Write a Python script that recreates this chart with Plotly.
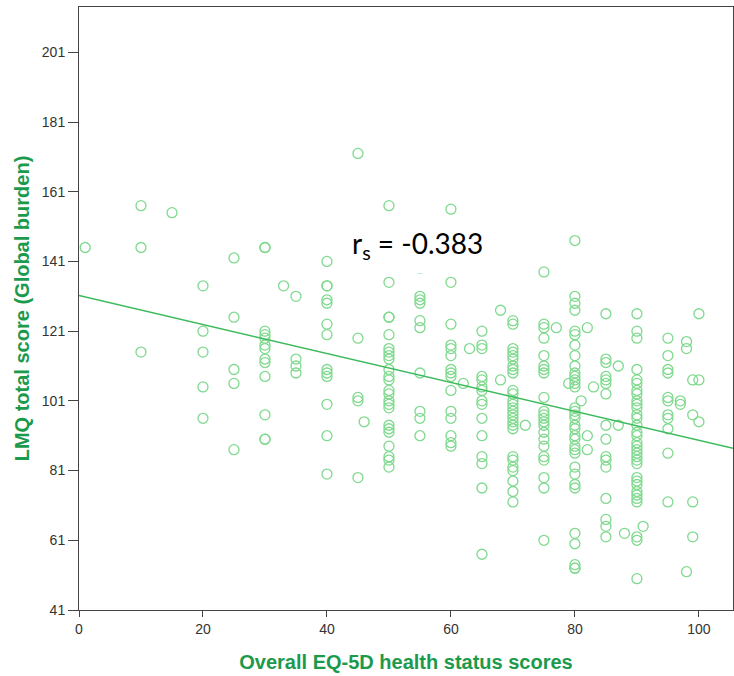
import plotly.graph_objects as go

# EQ-5D score levels (x) and the LMQ scores observed at each level (y)
eq5d_levels = [1, 10, 15, 20, 25, 30, 33, 35, 40, 45, 46, 50, 55, 60, 62, 63, 65, 68, 70,
               72, 75, 77, 79, 80, 81, 82, 83, 85, 87, 88, 90, 91, 95, 97, 98, 99, 100]
lmq_by_level = [
    [145],
    [157, 145, 115],
    [155],
    [134, 121, 115, 105, 96],
    [142, 125, 110, 106, 87],
    [145, 145, 121, 120, 119, 117, 116, 113, 112, 108, 97, 90, 90],
    [134],
    [131, 113, 111, 109],
    [141, 134, 134, 130, 129, 123, 120, 110, 109, 108, 100, 91, 80],
    [172, 119, 102, 101, 79],
    [95],
    [157, 135, 125, 125, 120, 116, 115, 114, 113, 110, 108, 107, 104, 103, 101, 100, 99, 94, 93, 92, 88, 85, 84, 82],
    [139, 131, 130, 129, 124, 122, 109, 98, 96, 91],
    [156, 135, 123, 117, 116, 114, 110, 109, 108, 104, 98, 96, 91, 89, 88],
    [106],
    [116],
    [121, 117, 116, 108, 107, 105, 104, 101, 100, 96, 91, 85, 83, 76, 57],
    [127, 107],
    [124, 123, 116, 115, 114, 113, 111, 110, 109, 104, 103, 101, 100, 99, 98, 97, 96, 95, 94, 93, 85, 84, 82, 81, 78, 75, 72],
    [94],
    [138, 123, 122, 119, 114, 111, 110, 109, 102, 98, 97, 96, 95, 94, 92, 90, 88, 85, 84, 79, 76, 61],
    [122],
    [106],
    [147, 131, 129, 127, 121, 120, 117, 114, 111, 109, 108, 107, 106, 105, 99, 98, 97, 96, 94, 93, 91, 90, 88, 87, 86, 82, 80, 77, 76, 63, 60, 54, 53, 53],
    [101],
    [122, 91, 87],
    [105],
    [126, 113, 112, 108, 107, 106, 103, 94, 90, 85, 84, 82, 73, 67, 65, 62],
    [111, 94],
    [63],
    [126, 121, 119, 110, 107, 106, 104, 103, 101, 100, 99, 97, 96, 94, 92, 91, 89, 88, 87, 86, 85, 84, 83, 79, 78, 77, 75, 74, 73, 72, 62, 61, 50],
    [65],
    [119, 114, 110, 109, 102, 101, 97, 96, 93, 86, 72],
    [101, 100],
    [118, 116, 52],
    [107, 97, 72, 62],
    [126, 107, 95],
]

# Fit line
fit_intercept = 131.2
fit_slope = -0.415
rs_label = "r<sub>s</sub> = -0.383"

y_ticks = [41, 61, 81, 101, 121, 141, 161, 181, 201]
x_ticks = [0, 20, 40, 60, 80, 100]
x_range = [0, 105.5]
y_range = [41, 214]

xs, ys = [], []
for lvl, vals in zip(eq5d_levels, lmq_by_level):
    for v in vals:
        xs.append(lvl)
        ys.append(v)

fig = go.Figure()
fig.add_trace(go.Scatter(
    x=xs, y=ys, mode="markers",
    marker=dict(symbol="circle-open", size=10, color="#7fd98e", line=dict(width=1.3)),
    showlegend=False, cliponaxis=True,
))
fit_x = [x_range[0], x_range[1]]
fit_y = [fit_intercept + fit_slope * v for v in fit_x]
fig.add_trace(go.Scatter(
    x=fit_x, y=fit_y, mode="lines",
    line=dict(color="#3dbb5c", width=1.5), showlegend=False,
))

title_color = "#1c9a4c"
axis_common = dict(
    showgrid=False, zeroline=False, showline=True, linecolor="#444444", linewidth=1,
    mirror=True, ticks="outside", tickcolor="#444444",
    tickfont=dict(family="Liberation Sans, Arial", size=14, color="#333333"),
)

fig.update_layout(
    width=734, height=676,
    margin=dict(l=79, r=1, t=7, b=66),
    plot_bgcolor="white", paper_bgcolor="white",
    xaxis=dict(range=x_range, tickvals=x_ticks, ticklen=6,
               title=dict(text="<b>Overall EQ-5D health status scores</b>", standoff=19,
                          font=dict(family="Liberation Sans, Arial", size=20, color=title_color)),
               **axis_common),
    yaxis=dict(range=y_range, tickvals=y_ticks, ticklen=10,
               title=dict(text="<b>LMQ total score (Global burden)</b>", standoff=6,
                          font=dict(family="Liberation Sans, Arial", size=20, color=title_color)),
               **axis_common),
    annotations=[dict(
        x=42.4, y=145.7, xref="x", yref="y", xanchor="left", yanchor="middle",
        text=rs_label, showarrow=False, bgcolor="white", borderpad=9,
        font=dict(family="Lato, Carlito, sans-serif", size=28, color="black"),
    )],
)

fig.write_html("out.html")
